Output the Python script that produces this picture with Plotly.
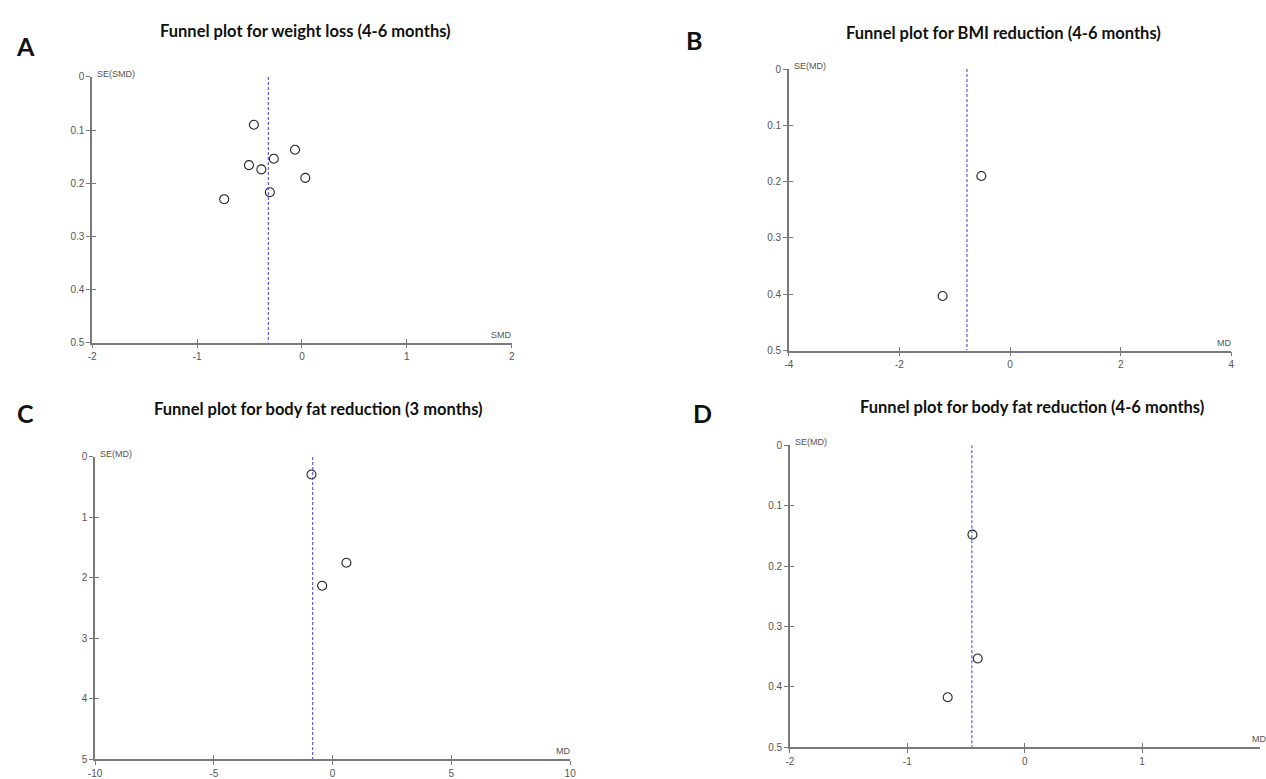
import plotly.graph_objects as go

# ---------------- data ----------------
A_smd = [-0.458, -0.066, -0.268, -0.505, -0.387, 0.032, -0.306, -0.741]
A_se = [0.090, 0.137, 0.154, 0.166, 0.174, 0.190, 0.217, 0.230]
A_pooled = -0.32

B_md = [-0.52, -1.22]
B_se = [0.190, 0.403]
B_pooled = -0.78

C_md = [-0.89, 0.58, -0.44]
C_se = [0.29, 1.75, 2.13]
C_pooled = -0.84

D_md = [-0.445, -0.40, -0.656]
D_se = [0.148, 0.353, 0.417]
D_pooled = -0.45

titles = ["Funnel plot for weight loss (4-6 months)",
          "Funnel plot for BMI reduction (4-6 months)",
          "Funnel plot for body fat reduction (3 months)",
          "Funnel plot for body fat reduction (4-6 months)"]
letters = ["A", "B", "C", "D"]
x_names = ["SMD", "MD", "MD", "MD"]
y_names = ["SE(SMD)", "SE(MD)", "SE(MD)", "SE(MD)"]
x_ranges = [[-2, 2], [-4, 4], [-10, 10], [-2, 2]]
y_max = [0.5, 0.5, 5, 0.5]
x_ticks = [[-2, -1, 0, 1, 2], [-4, -2, 0, 2, 4], [-10, -5, 0, 5, 10], [-2, -1, 0, 1]]
y_ticks = [[0, 0.1, 0.2, 0.3, 0.4, 0.5], [0, 0.1, 0.2, 0.3, 0.4, 0.5],
           [0, 1, 2, 3, 4, 5], [0, 0.1, 0.2, 0.3, 0.4, 0.5]]
x_ticktext = [["-2", "-1", "0", "1", "2"], ["-4", "-2", "0", "2", "4"],
              ["-10", "-5", "0", "5", "10"], ["-2", "-1", "0", "1"]]
y_ticktext = [["0", "0.1", "0.2", "0.3", "0.4", "0.5"], ["0", "0.1", "0.2", "0.3", "0.4", "0.5"],
              ["0", "1", "2", "3", "4", "5"], ["0", "0.1", "0.2", "0.3", "0.4", "0.5"]]
effects = [A_smd, B_md, C_md, D_md]
ses = [A_se, B_se, C_se, D_se]
pooled = [A_pooled, B_pooled, C_pooled, D_pooled]

# ---------------- layout geometry (pixels) ----------------
W, H = 1266, 779
# (left, right, top, bottom) of each plot area in pixels
boxes = [(86, 510, 72, 342), (790, 1237, 64, 350), (89, 569, 458, 765), (791, 1265.5, 446, 753)]
title_pos = [(302, 25), (1007, 27), (315, 409), (1036, 407)]
letter_pos = [(19, 41), (694, 35), (19, 413), (703, 413)]

AX_COL = "#7a7a7a"
LAB_COL = "#555555"
TICK_FONT = dict(family="Liberation Sans, Arial", size=10, color=LAB_COL)

fig = go.Figure()
annotations = []
layout = {}

for i in range(4):
    n = i + 1
    no = i + 5
    L, R, T, B = boxes[i]
    xd = [L / W, R / W]
    yd = [1 - B / H, 1 - T / H]
    xs = "" if n == 1 else str(n)
    xa, ya = "x" + xs, "y" + xs
    xo, yo = "x" + str(no), "y" + str(no)

    # study points
    fig.add_trace(go.Scatter(
        x=effects[i], y=ses[i], mode="markers", xaxis=xa, yaxis=ya,
        marker=dict(symbol="circle-open", size=9, color="#222222", line=dict(width=1.1)),
        showlegend=False, hoverinfo="x+y"))
    # pooled estimate line
    fig.add_trace(go.Scatter(
        x=[pooled[i], pooled[i]], y=[0, y_max[i]], mode="lines", xaxis=xa, yaxis=ya,
        line=dict(color="#5b5be6", width=1.2, dash="3px,2px"),
        showlegend=False, hoverinfo="skip"))
    # invisible trace for overlay (inside ticks)
    fig.add_trace(go.Scatter(x=[pooled[i]], y=[0], mode="markers", xaxis=xo, yaxis=yo,
                             marker=dict(opacity=0), showlegend=False, hoverinfo="skip"))

    layout["xaxis" + xs] = dict(
        domain=xd, anchor=ya, range=x_ranges[i], tickvals=x_ticks[i], ticktext=x_ticktext[i],
        showgrid=False, zeroline=False, showline=True, linecolor=AX_COL, linewidth=1.5,
        ticks="outside", ticklen=4, tickwidth=1, tickcolor=AX_COL, tickfont=TICK_FONT,
        fixedrange=True)
    layout["yaxis" + xs] = dict(
        domain=yd, anchor=xa, range=[y_max[i], 0], tickvals=y_ticks[i], ticktext=y_ticktext[i],
        showgrid=False, zeroline=False, showline=True, linecolor=AX_COL, linewidth=1.5,
        ticks="outside", ticklen=4, tickwidth=1, tickcolor=AX_COL, tickfont=TICK_FONT,
        fixedrange=True)
    layout["xaxis" + str(no)] = dict(
        domain=xd, anchor=yo, overlaying=xa, range=x_ranges[i], tickvals=x_ticks[i],
        showgrid=False, zeroline=False, showline=False, showticklabels=False,
        ticks="inside", ticklen=4, tickwidth=1, tickcolor=AX_COL, fixedrange=True)
    layout["yaxis" + str(no)] = dict(
        domain=yd, anchor=xo, overlaying=ya, range=[y_max[i], 0], tickvals=y_ticks[i],
        showgrid=False, zeroline=False, showline=False, showticklabels=False,
        ticks="inside", ticklen=4, tickwidth=1, tickcolor=AX_COL, fixedrange=True)

    # axis name labels
    annotations.append(dict(text=y_names[i], xref=xa + " domain", yref=ya + " domain",
                            x=0, y=1, xanchor="left", yanchor="bottom", xshift=3, yshift=-4,
                            showarrow=False, font=dict(family="Liberation Sans, Arial", size=9, color=LAB_COL)))
    if i < 3:
        annotations.append(dict(text=x_names[i], xref=xa + " domain", yref=ya + " domain",
                                x=1, y=0, xanchor="right", yanchor="bottom", xshift=2, yshift=1,
                                showarrow=False, font=dict(family="Liberation Sans, Arial", size=9, color=LAB_COL)))
    else:
        annotations.append(dict(text=x_names[i], xref="paper", yref=ya + " domain",
                                x=1256 / W, y=0, xanchor="left", yanchor="bottom", yshift=1,
                                showarrow=False, font=dict(family="Liberation Sans, Arial", size=9, color=LAB_COL)))
    # titles
    tx, ty = title_pos[i]
    annotations.append(dict(text="<b>" + titles[i] + "</b>", xref="paper", yref="paper",
                            x=tx / W, y=1 - ty / H, xanchor="center", yanchor="middle",
                            showarrow=False, font=dict(family="Lato, Open Sans", size=16.5, color="#111111")))
    lx, ly = letter_pos[i]
    annotations.append(dict(text="<b>" + letters[i] + "</b>", xref="paper", yref="paper",
                            x=lx / W, y=1 - ly / H, xanchor="center", yanchor="middle",
                            showarrow=False, font=dict(family="Lato, Open Sans", size=25, color="#111111")))

fig.update_layout(**layout)
fig.update_layout(width=W, height=H, margin=dict(l=0, r=0, t=0, b=0),
                  paper_bgcolor="white", plot_bgcolor="white",
                  annotations=annotations, showlegend=False)

fig.write_html("out.html", config={"displayModeBar": False},
               post_script="document.body.style.margin='0';document.body.style.overflow='hidden';")
